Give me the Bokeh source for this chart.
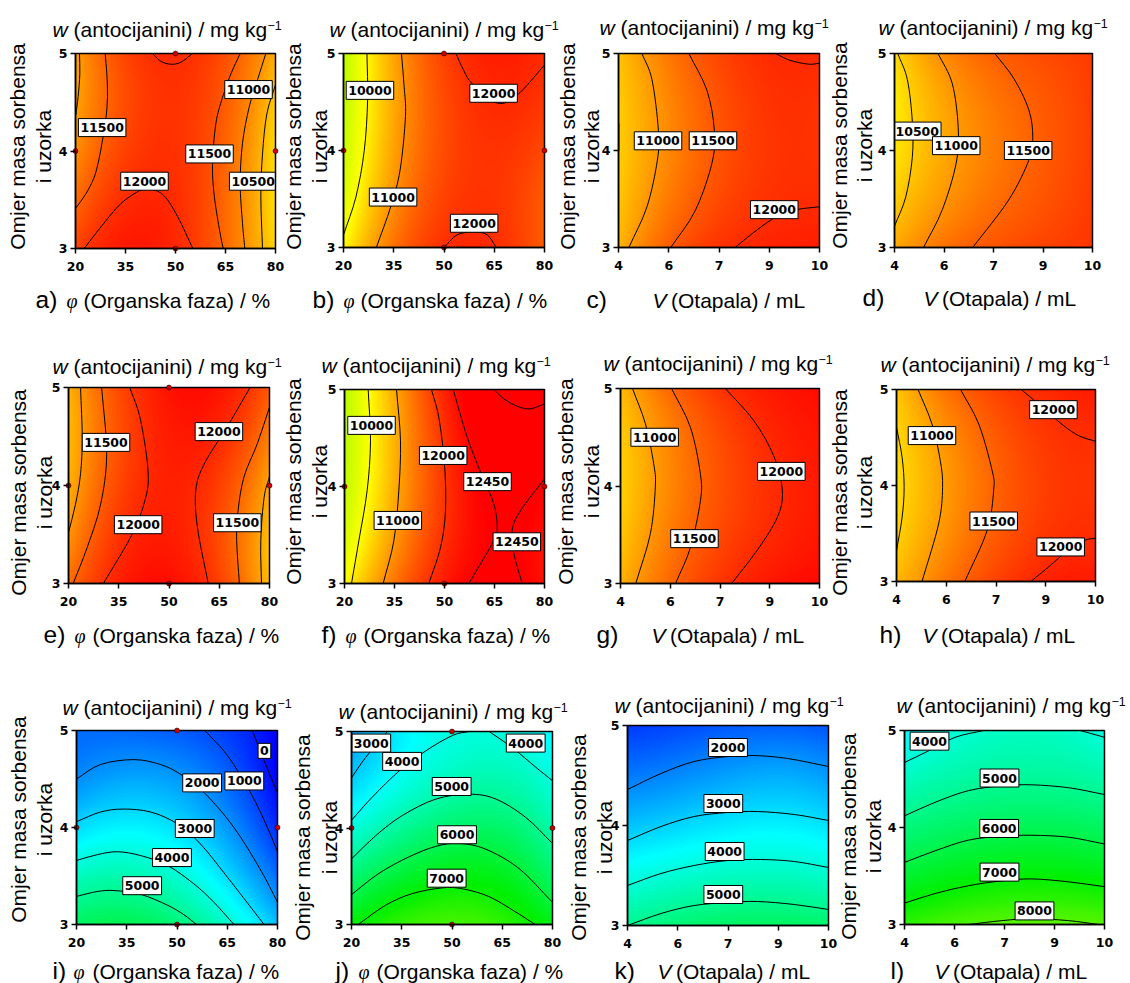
import numpy as np
from bokeh.plotting import figure
from bokeh.layouts import column, row
from bokeh.models import LinearColorMapper, FixedTicker, Label, Range1d
from bokeh.core.properties import value
from bokeh.embed import file_html
from bokeh.resources import INLINE

PHI_RANGE = (20, 80)
VOL_RANGE = (4, 10)
Y_RANGE = (3, 5)
PHI_TICKS = [20, 35, 50, 65, 80]
VOL_TICKS = [4, 5.5, 7, 8.5, 10]
VOL_TICK_LABELS = {4: "4", 5.5: "6", 7: "7", 8.5: "9", 10: "10"}
Y_TICKS = [3, 4, 5]
TITLE = ["w", "(antocijanini) / mg kg", "\u22121"]
Y_LINE1 = "Omjer masa sorbensa"
Y_LINE2 = "i uzorka"
PHI_TEXT = "(Organska faza) / %"
VOL_TEXT = "(Otapala) / mL"

# colour scale anchors
COL_LEVELS = [0, 3500, 7000, 10000, 12450]
COL_RGB = [(0, 0, 255), (0, 255, 255), (0, 240, 0), (255, 255, 0), (255, 0, 0)]

# value grids: rows y = 5, 4.5, 4, 3.5, 3; columns = the five x ticks
a_grid = [[10900, 11800, 12030, 11700, 10800], [10900, 11750, 11950, 11500, 10500], [11050, 11800, 11950, 11600, 10350], [11450, 12030, 12040, 11350, 10300], [11800, 12200, 12080, 11450, 10400]]
b_grid = [[9200, 10800, 11900, 12100, 12020], [9250, 10800, 11800, 12000, 11950], [9350, 10850, 11750, 11950, 11700], [9600, 11100, 11800, 11950, 11600], [10050, 11350, 12000, 12020, 11550]]
c_grid = [[10600, 11250, 11850, 11980, 12050], [10500, 11150, 11700, 11950, 11960], [10480, 11100, 11650, 11900, 11950], [10550, 11250, 11800, 11950, 12030], [10700, 11550, 11950, 12120, 12180]]
d_grid = [[10350, 11150, 11480, 11760, 11880], [10200, 10900, 11300, 11630, 11850], [10200, 10850, 11200, 11560, 11850], [10500, 11000, 11400, 11650, 11880], [10800, 11350, 11650, 11800, 11950]]
e_grid = [[10750, 11750, 12250, 12250, 11600], [10700, 11650, 12230, 12050, 11200], [10750, 11700, 12230, 11750, 10900], [11050, 11900, 12250, 11700, 10600], [11400, 12150, 12300, 11850, 10650]]
f_grid = [[9200, 10700, 12300, 12700, 12700], [9200, 10650, 12100, 12600, 12650], [9300, 10750, 12000, 12500, 12400], [9500, 10950, 12000, 12460, 12300], [10050, 11350, 12200, 12550, 12250]]
g_grid = [[10650, 11450, 11950, 12200, 12320], [10500, 11200, 11750, 12080, 12250], [10400, 11100, 11700, 11950, 12200], [10550, 11250, 11800, 12050, 12250], [10750, 11450, 11950, 12220, 12350]]
h_grid = [[10550, 11350, 11800, 12050, 12200], [10400, 11050, 11650, 11900, 12030], [10300, 10900, 11500, 11800, 11930], [10450, 11050, 11650, 11900, 12040], [10700, 11300, 11850, 12100, 12180]]
i_grid = [[1500, 1400, 1300, 800, 0], [2000, 2350, 2150, 1400, 0], [2900, 3350, 2950, 2150, 600], [4400, 4600, 4150, 3000, 1500], [5600, 5900, 5300, 4200, 2650]]
j_grid = [[2200, 3300, 3900, 3950, 3400], [2950, 3800, 4550, 4500, 3950], [3850, 4750, 5600, 5550, 4650], [5500, 6400, 6750, 6600, 5550], [6900, 7500, 7900, 7500, 6750]]
k_grid = [[800, 1000, 1200, 1300, 1150], [1700, 1850, 2340, 2350, 2170], [2700, 2920, 3230, 3250, 3100], [3800, 4100, 4350, 4400, 4200], [5000, 5400, 5650, 5700, 5500]]
l_grid = [[3400, 4050, 4300, 4350, 3950], [4400, 4720, 4900, 4900, 4730], [5250, 5650, 5850, 5850, 5650], [6350, 6700, 6900, 6950, 6800], [7500, 7900, 8000, 8100, 8000]]

# contour lines: (xs, ys)
a_lines = [
    ([21.2, 21.3, 20.8, 20.1], [5, 4.79, 4.56, 4.37]),
    ([28.9, 29.4, 29.6, 29.1, 28.1, 27, 25.6, 23.1, 20], [5, 4.79, 4.56, 4.32, 4.11, 3.91, 3.73, 3.56, 3.41]),
    ([22.6, 27.6, 33.6, 39.6, 42.6, 46.6, 50.6, 55.2], [3, 3.22, 3.46, 3.6, 3.61, 3.54, 3.33, 3]),
    ([43.1, 45.6, 48.6, 51.6, 55.1], [5, 4.92, 4.89, 4.91, 5]),
    ([69.4, 66.6, 64.1, 62.1, 61.1, 61.6, 63.1, 64.3], [5, 4.79, 4.55, 4.28, 3.86, 3.55, 3.21, 3]),
    ([77.1, 74.6, 72.1, 70.1, 69.4, 70.1, 70.8], [5, 4.73, 4.45, 4.08, 3.67, 3.26, 3]),
    ([80, 77.4, 76.1, 75.6, 76.1], [4.68, 4.38, 3.97, 3.53, 3]),
]
a_labels = [(28, 4.24, "11500"), (40.7, 3.69, "12000"), (60.2, 3.97, "11500"), (71.9, 4.63, "11000"), (73.3, 3.69, "10500")]
b_lines = [
    ([27, 27.2, 26.2, 23.7, 20], [5, 4.52, 4, 3.52, 3.13]),
    ([37.3, 38.1, 38.5, 36.9, 34.1, 29.8], [5, 4.66, 4.35, 3.8, 3.42, 3]),
    ([53.6, 55.4, 58.4, 65.8, 71.8, 80], [5, 4.86, 4.69, 4.49, 4.57, 4.88]),
    ([50, 53.9, 58.9, 62.9, 65.6], [3, 3.13, 3.16, 3.13, 3]),
]
b_labels = [(27.9, 4.62, "10000"), (34.8, 3.52, "11000"), (64.8, 4.59, "12000"), (59, 3.25, "12000")]
c_lines = [
    ([4.7, 5, 5.19, 5.16, 4.85, 4.31], [5, 4.73, 4.21, 3.9, 3.42, 3]),
    ([6.1, 6.64, 6.86, 6.79, 6.29, 5.56], [5, 4.62, 4.21, 3.87, 3.38, 3]),
    ([7.48, 8.13, 8.73, 9.32, 10], [3, 3.18, 3.32, 3.39, 3.42]),
    ([8.68, 9.12, 9.67, 10], [5, 4.93, 4.89, 4.9]),
    ([4.01, 4.01], [4.28, 4.0]),
]
c_labels = [(5.18, 4.1, "11000"), (6.82, 4.1, "11500"), (8.65, 3.39, "12000")]
d_lines = [
    ([4.1, 4.39, 4.54, 4.54, 4.34, 4], [5, 4.73, 4.3, 3.93, 3.52, 3.22]),
    ([5.32, 5.75, 5.93, 5.87, 5.45, 4.88], [5, 4.69, 4.24, 3.87, 3.39, 3]),
    ([7.04, 7.62, 8.07, 8.19, 8.07, 7.46, 6.37], [5, 4.74, 4.42, 4.14, 3.9, 3.49, 3]),
]
d_labels = [(4.69, 4.2, "10500"), (5.87, 4.05, "11000"), (8.05, 4, "11500")]
e_lines = [
    ([23.6, 24.1, 23.6, 22.1, 20], [5, 4.49, 4.12, 3.81, 3.52]),
    ([29.9, 31.4, 29.6, 25.6, 21.4], [5, 4.32, 3.81, 3.37, 3]),
    ([38.3, 41.5, 43.8, 42.5, 38.5, 30.4], [5, 4.67, 4.12, 3.81, 3.47, 3]),
    ([74.2, 67.4, 60.5, 58, 58.5, 61.7], [5, 4.6, 4.22, 3.95, 3.57, 3]),
    ([80, 76.4, 72.4, 70.6, 70.2, 71], [4.8, 4.43, 4.09, 3.74, 3.44, 3]),
    ([80, 78.4, 77.4, 77.6], [4.09, 3.88, 3.44, 3]),
]
e_labels = [(31.2, 4.44, "11500"), (40.8, 3.6, "12000"), (64.9, 4.55, "12000"), (70.4, 3.62, "11500")]
f_lines = [
    ([27.1, 27.8, 26.8, 24.3, 22.1], [5, 4.47, 3.96, 3.44, 3]),
    ([35.6, 36.8, 36.3, 34.8, 31.6], [5, 4.47, 3.96, 3.44, 3]),
    ([46.1, 48.3, 50, 50.3, 48.8, 45.3], [5, 4.71, 4.23, 3.75, 3.37, 3]),
    ([52.6, 56.8, 60.8, 64.8, 65.8, 64.3, 57.3], [5, 4.51, 4.15, 3.82, 3.55, 3.41, 3]),
    ([80, 72.8, 70.3, 70.8, 73.3], [4.08, 3.75, 3.55, 3.31, 3]),
    ([64.8, 68.8, 74.8, 80], [5, 4.88, 4.8, 4.85]),
]
f_labels = [(28.1, 4.63, "10000"), (36, 3.65, "11000"), (49.6, 4.32, "12000"), (62.9, 4.05, "12450"), (71.7, 3.43, "12450")]
g_lines = [
    ([4.36, 4.75, 5, 5.05, 4.9, 4.46], [5, 4.64, 4.23, 3.99, 3.51, 3]),
    ([5.54, 6.11, 6.41, 6.41, 6.11, 5.66], [5, 4.6, 4.12, 3.85, 3.37, 3]),
    ([7.16, 8.02, 8.63, 8.88, 8.73, 8.12, 7.35], [5, 4.67, 4.3, 3.95, 3.68, 3.34, 3]),
]
g_labels = [(5.03, 4.5, "11000"), (6.23, 3.46, "11500"), (8.85, 4.15, "12000")]
h_lines = [
    ([4, 4.17, 4.23, 4.17, 4], [4.61, 4.29, 3.98, 3.67, 3.32]),
    ([4.65, 5.07, 5.32, 5.39, 5.27, 4.77], [5, 4.64, 4.26, 3.98, 3.6, 3]),
    ([5.93, 6.48, 6.88, 6.93, 6.73, 6.06], [5, 4.64, 4.16, 3.95, 3.53, 3]),
    ([7.76, 8.28, 8.98, 9.49, 10], [5, 4.85, 4.64, 4.52, 4.46]),
    ([8.05, 8.58, 9.19, 9.69, 10], [3, 3.15, 3.33, 3.43, 3.45]),
]
h_labels = [(5.07, 4.52, "11000"), (6.93, 3.63, "11500"), (8.73, 4.79, "12000"), (8.95, 3.36, "12000")]
i_lines = [
    ([72.5, 76, 80], [5, 4.69, 4.36]),
    ([58.3, 65.1, 72.1, 77, 80], [5, 4.74, 4.35, 4, 3.75]),
    ([20, 27.2, 37.1, 45, 51, 58.1, 67, 75, 80], [4.5, 4.65, 4.7, 4.65, 4.55, 4.36, 4, 3.56, 3.23]),
    ([20, 27.2, 34, 42.1, 50, 57, 65, 76], [4.06, 4.16, 4.19, 4.16, 4.04, 3.83, 3.49, 3]),
    ([20, 26.2, 32.2, 39.2, 47.1, 55, 61, 67], [3.66, 3.72, 3.75, 3.71, 3.61, 3.42, 3.23, 3]),
    ([20, 26.2, 31.2, 39.2, 47.1, 52.1, 55.8], [3.29, 3.34, 3.35, 3.31, 3.2, 3.1, 3]),
]
i_labels = [(39.6, 3.4, "5000"), (48.5, 3.69, "4000"), (55.3, 3.99, "3000"), (57.5, 4.46, "2000"), (70.1, 4.48, "1000"), (76.1, 4.79, "0")]
j_lines = [
    ([20, 24.2, 30.7], [4.52, 4.73, 5]),
    ([20, 26.2, 34.2, 42.2, 50.2, 55.1], [4.08, 4.32, 4.59, 4.8, 4.96, 5]),
    ([61.1, 68.1, 75, 80], [5, 4.83, 4.63, 4.49]),
    ([20, 27.2, 35.2, 45.2, 55.1, 63.1, 72, 80], [3.68, 3.92, 4.13, 4.3, 4.35, 4.3, 4.11, 3.84]),
    ([20, 28.2, 37.1, 45.2, 52.1, 60.1, 70, 80], [3.31, 3.53, 3.7, 3.81, 3.84, 3.78, 3.58, 3.23]),
    ([22, 30.2, 38.1, 47.1, 53.1, 61, 69, 74.8], [3, 3.2, 3.32, 3.38, 3.37, 3.29, 3.13, 3]),
]
j_labels = [(25.9, 4.88, "3000"), (35.1, 4.69, "4000"), (49.9, 4.43, "5000"), (51.5, 3.93, "6000"), (48.4, 3.48, "7000"), (72, 4.88, "4000")]
k_lines = [
    ([4, 5, 5.99, 6.99, 7.78, 8.78, 10], [4.36, 4.52, 4.64, 4.69, 4.7, 4.67, 4.59]),
    ([4, 5, 5.99, 6.99, 7.88, 8.98, 10], [3.85, 3.99, 4.09, 4.13, 4.14, 4.11, 4.05]),
    ([4, 5, 5.99, 6.99, 7.98, 8.98, 10], [3.4, 3.52, 3.6, 3.65, 3.66, 3.64, 3.58]),
    ([4, 5, 5.99, 6.99, 7.88, 8.98, 10], [3, 3.12, 3.2, 3.23, 3.24, 3.21, 3.16]),
]
k_labels = [(7, 4.78, "2000"), (6.86, 4.22, "3000"), (6.9, 3.74, "4000"), (6.86, 3.31, "5000")]
l_lines = [
    ([4, 4.72, 5.52, 6.37], [4.67, 4.79, 4.93, 5]),
    ([9.27, 10], [5, 4.93]),
    ([4, 4.92, 5.92, 6.92, 7.82, 8.92, 10], [4.12, 4.26, 4.38, 4.43, 4.44, 4.41, 4.34]),
    ([4, 4.92, 5.92, 6.92, 7.82, 8.92, 10], [3.64, 3.76, 3.87, 3.91, 3.92, 3.9, 3.83]),
    ([4, 4.92, 5.92, 6.92, 7.82, 8.92, 10], [3.22, 3.32, 3.4, 3.45, 3.47, 3.44, 3.39]),
    ([5.92, 6.92, 7.82, 8.92, 9.82], [3, 3.04, 3.06, 3.04, 3]),
]
l_labels = [(4.75, 4.89, "4000"), (6.85, 4.51, "5000"), (6.84, 3.99, "6000"), (6.85, 3.54, "7000"), (7.9, 3.14, "8000")]

DOTS_ALL = [(50, 5), (20, 4), (80, 4), (50, 3)]
DOTS_F = [(20, 4), (80, 4), (50, 3)]

# layout, in page pixels
ROW_CUTS = [0, 330, 670, 983]
COL_CUTS = [[0, 306, 581, 854, 1130], [0, 307, 580, 854, 1130], [0, 317, 593, 862, 1130]]
PANELS = [
    # letter, kind, grid, lines, labels, dots, frame(l, r, t, b), title(x, base), yl(x1, x2, yc), xl(letter x, sym x, text x, base)
    [("a)", "phi", a_grid, a_lines, a_labels, DOTS_ALL, (75, 275, 53, 248), (52, 36), (24, 50, 146), (35, 66, 83, 307)),
     ("b)", "phi", b_grid, b_lines, b_labels, DOTS_ALL, (343, 544, 53, 247), (329, 36), (300, 326, 146), (312, 343, 360, 307)),
     ("c)", "vol", c_grid, c_lines, c_labels, [], (618, 819, 53, 247), (599, 34), (574, 598, 146), (586, 652, 0, 307)),
     ("d)", "vol", d_grid, d_lines, d_labels, [], (894, 1092, 53, 247), (878, 34), (846, 871, 145), (862, 923, 0, 305))],
    [("e)", "phi", e_grid, e_lines, e_labels, DOTS_ALL, (68, 269, 387, 583), (52, 373), (25, 51, 492), (43, 74, 92, 642)),
     ("f)", "phi", f_grid, f_lines, f_labels, DOTS_F, (344, 544, 389, 583), (321, 372), (300, 326, 481), (321, 345, 363, 642)),
     ("g)", "vol", g_grid, g_lines, g_labels, [], (620, 819, 388, 583), (603, 370), (572, 598, 481), (596, 651, 0, 642)),
     ("h)", "vol", h_grid, h_lines, h_labels, [], (896, 1095, 389, 581), (880, 371), (846, 871, 492), (879, 922, 0, 642))],
    [("i)", "phi", i_grid, i_lines, i_labels, DOTS_ALL, (76, 277, 730, 924), (62, 714), (25, 51, 819), (52, 73, 92, 978)),
     ("j)", "phi", j_grid, j_lines, j_labels, DOTS_ALL, (351, 552, 731, 924), (338, 718), (309, 336, 837), (335, 358, 376, 978)),
     ("k)", "vol", k_grid, k_lines, k_labels, [], (627, 828, 725, 925), (614, 712), (585, 611, 837), (614, 657, 0, 978)),
     ("l)", "vol", l_grid, l_lines, l_labels, [], (904, 1104, 730, 924), (896, 712), (855, 880, 836), (890, 934, 0, 978))],
]

SANS = "Liberation Sans"
TICK_FONT = "DejaVu Sans"
BASELINE_FIX = 0.34  # the label's alphabetic anchor sits this many em above the glyph baseline


def make_palette():
    vals = np.linspace(COL_LEVELS[0], COL_LEVELS[-1], 1024)
    out = []
    for v in vals:
        ch = [np.interp(v, COL_LEVELS, [c[i] for c in COL_RGB]) for i in range(3)]
        out.append("#%02x%02x%02x" % tuple(int(round(c)) for c in ch))
    return out


PALETTE = make_palette()
mapper = LinearColorMapper(palette=PALETTE, low=COL_LEVELS[0], high=COL_LEVELS[-1])


def surface(grid):
    # smooth the read grid with a cubic tensor fit so the image has no cell edges
    g = np.array(grid[::-1], dtype=float)
    u = np.linspace(-1, 1, 5)
    uu, vv = np.meshgrid(u, u)
    A = np.polynomial.polynomial.polyvander2d(uu.ravel(), vv.ravel(), [3, 3])
    coef = np.linalg.lstsq(A, g.ravel(), rcond=None)[0]
    uf, vf = np.meshgrid(np.linspace(-1, 1, 240), np.linspace(-1, 1, 200))
    return (np.polynomial.polynomial.polyvander2d(uf.ravel(), vf.ravel(), [3, 3]) @ coef).reshape(vf.shape)


def draw_curve(p, xs, ys, xr, yr):
    # a smooth Bezier path through the points
    x, y = np.array(xs, float), np.array(ys, float)
    tx = np.gradient(x)
    ty = np.gradient(y)
    c0x = np.clip(x[:-1] + tx[:-1] / 3, *xr)
    c0y = np.clip(y[:-1] + ty[:-1] / 3, *yr)
    c1x = np.clip(x[1:] - tx[1:] / 3, *xr)
    c1y = np.clip(y[1:] - ty[1:] / 3, *yr)
    p.bezier(x0=x[:-1], y0=y[:-1], x1=x[1:], y1=y[1:], cx0=c0x, cy0=c0y, cx1=c1x, cy1=c1y,
             line_color="black", line_width=1)


def build(panel, cut_l, cut_r, cut_t, cut_b):
    letter, kind, grid, lines, labels, dots, frame, title, yl, xl = panel
    fl, fr, ft, fb = frame
    xr = PHI_RANGE if kind == "phi" else VOL_RANGE
    sx = (xr[1] - xr[0]) / (fr - fl)
    sy = (Y_RANGE[1] - Y_RANGE[0]) / (fb - ft)
    px = lambda v: xr[0] + (v - fl) * sx
    py = lambda v: Y_RANGE[0] + (fb - v) * sy
    p = figure(width=cut_r - cut_l, height=cut_b - cut_t,
               x_range=Range1d(px(cut_l), px(cut_r)), y_range=Range1d(py(cut_b), py(cut_t)),
               output_backend="svg", toolbar_location=None,
               min_border_left=0, min_border_right=0, min_border_top=0, min_border_bottom=0,
               background_fill_color=None, border_fill_color=None)
    p.grid.visible = False
    p.outline_line_color = None

    p.image(image=[surface(grid)], x=xr[0], y=Y_RANGE[0], dw=xr[1] - xr[0], dh=Y_RANGE[1] - Y_RANGE[0], color_mapper=mapper)
    for xs, ys in lines:
        draw_curve(p, xs, ys, xr, Y_RANGE)
    for lx, ly, txt in labels:
        w = (8.7 * len(txt) + 4) * sx / 2
        h = (18 if len(txt) > 1 else 15) * sy / 2
        p.quad(left=[max(lx - w, xr[0])], right=[min(lx + w, xr[1])], bottom=[ly - h], top=[ly + h],
               fill_color="white", line_color="black", line_width=1)
        p.text([lx], [ly], text=[txt], text_align="center", text_baseline="middle",
               text_font=value(TICK_FONT), text_font_style="bold", text_font_size="12.5px", text_color="black")
    p.quad(left=[xr[0]], right=[xr[1]], bottom=[Y_RANGE[0]], top=[Y_RANGE[1]], fill_color=None,
           line_color="black", line_width=1.5)
    if dots:
        p.scatter([d[0] for d in dots], [d[1] for d in dots], size=5, fill_color="#d00000",
                  line_color="black", line_width=0.5)

    for ax in (p.xaxis[0], p.yaxis[0]):
        ax.axis_line_width = 1.5
        ax.major_tick_line_width = 1.5
        ax.major_tick_out = 5
        ax.major_tick_in = 0
        ax.minor_tick_line_color = None
        ax.major_label_text_font = TICK_FONT
        ax.major_label_text_font_style = "bold"
        ax.major_label_text_font_size = "12.5px"
        ax.major_label_text_color = "black"
    p.xaxis[0].fixed_location = Y_RANGE[0]
    p.yaxis[0].fixed_location = xr[0]
    p.xaxis[0].bounds = xr
    p.yaxis[0].bounds = Y_RANGE
    p.xaxis[0].major_label_standoff = 8
    p.yaxis[0].major_label_standoff = 3
    p.yaxis[0].ticker = FixedTicker(ticks=Y_TICKS)
    p.yaxis[0].major_label_overrides = {t: str(t) for t in Y_TICKS}
    if kind == "phi":
        p.xaxis[0].ticker = FixedTicker(ticks=PHI_TICKS)
    else:
        p.xaxis[0].ticker = FixedTicker(ticks=VOL_TICKS)
        p.xaxis[0].major_label_overrides = VOL_TICK_LABELS

    def text(x, y, t, size=21, font=SANS, style="normal", angle=0, align="left"):
        shift = BASELINE_FIX * size
        tx0 = x - shift if angle == 90 else x
        ty0 = y if angle == 90 else y - shift
        p.add_layout(Label(x=px(tx0), y=py(ty0), text=t, text_font=font, text_font_size=f"{size}px",
                           text_font_style=style, text_color="black", angle=angle, angle_units="deg",
                           text_align=align, text_baseline="alphabetic"))

    tx, tb = title
    text(tx, tb, TITLE[0], style="italic")
    text(tx + 21, tb, TITLE[1])
    text(tx + 215, tb - 7, TITLE[2], size=12.5)
    x1, x2, yc = yl
    text(x2, yc, Y_LINE2, angle=90, align="center")
    lx, sx_, tx_, base = xl
    text(lx, base, letter, size=24.5)
    if kind == "phi":
        text(sx_, base, "\u03c6", size=20, font="Liberation Serif", style="italic")
        text(tx_, base, PHI_TEXT)
    else:
        text(sx_, base, "V", style="italic")
        text(sx_ + 18.5, base, VOL_TEXT)
    return p, text


rows = []
for r, panels in enumerate(PANELS):
    cuts = COL_CUTS[r]
    built = [build(pn, cuts[c], cuts[c + 1], ROW_CUTS[r], ROW_CUTS[r + 1]) for c, pn in enumerate(panels)]
    for c, pn in enumerate(panels):
        # the long y label line lies left of the short one, in the neighbour's canvas
        x1, _, yc = pn[8]
        built[max(c - 1, 0)][1](x1, yc, Y_LINE1, angle=90, align="center")
    rows.append(row(*[b[0] for b in built], spacing=0))
page = column(*rows, spacing=0)
open("out.html", "w").write(file_html(page, INLINE))
